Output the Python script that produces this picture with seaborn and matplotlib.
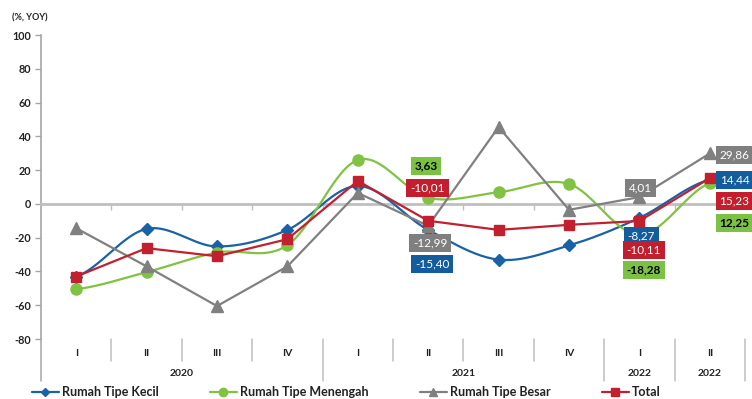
import numpy as np
import pandas as pd
import matplotlib
matplotlib.use("Agg")
import matplotlib.pyplot as plt
from matplotlib.lines import Line2D
import matplotlib.transforms as mtransforms
import seaborn as sns

# Quarterly year-on-year growth of residential property prices (%)
quarters = ["I", "II", "III", "IV", "I", "II", "III", "IV", "I", "II"]
years = ["2020", "2021", "2022", "2022"]
year_spans = [(0, 3), (4, 7), (8, 8), (9, 9)]

kecil = [-43.0, -14.8, -25.2, -15.4, 10.6, -15.40, -33.0, -24.6, -8.27, 14.44]
menengah = [-50.5, -40.4, -28.8, -24.5, 26.0, 3.63, 6.9, 11.8, -18.28, 12.25]
besar = [-14.4, -37.0, -60.5, -37.0, 6.5, -12.99, 45.5, -3.5, 4.01, 29.86]
total = [-43.0, -26.2, -31.0, -20.9, 13.6, -10.01, -15.4, -12.4, -10.11, 15.23]

series_names = ["Rumah Tipe Kecil", "Rumah Tipe Menengah", "Rumah Tipe Besar", "Total"]
series_values = [kecil, menengah, besar, total]
colors = ["#1A62A6", "#80C342", "#808080", "#C3202F"]
box_colors = ["#135C9E", "#7BC143", "#7F7F7F", "#C21E2D"]
text_colors = ["white", "black", "white", "white"]
markers = ["D", "o", "^", "s"]
msizes = [6, 8, 8.5, 7.5]
smooth = [True, True, False, False]

# data-label anchors: (series index, point index, label x, label y)
label_spots = [
    (1, 5, 4.97, 22.5), (3, 5, 4.99, 9.5), (2, 5, 5.03, -23.1), (0, 5, 5.06, -35.5),
    (2, 8, 8.02, 9.5), (0, 8, 8.03, -18.9), (3, 8, 8.06, -27.2), (1, 8, 8.06, -39.1),
    (2, 9, 9.35, 29.0), (0, 9, 9.35, 14.2), (3, 9, 9.35, 1.8), (1, 9, 9.35, -11.2),
]


def catmull_rom(y, steps=24):
    """Smoothed curve through the points (uniform Catmull-Rom)."""
    y = np.asarray(y, float)
    x = np.arange(len(y), dtype=float)
    p = np.concatenate([[y[0]], y, [y[-1]]])
    xs, ys = [], []
    for i in range(len(y) - 1):
        p0, p1, p2, p3 = p[i], p[i + 1], p[i + 2], p[i + 3]
        t = np.linspace(0, 1, steps, endpoint=False)
        seg = 0.5 * ((2 * p1) + (-p0 + p2) * t + (2 * p0 - 5 * p1 + 4 * p2 - p3) * t ** 2
                     + (-p0 + 3 * p1 - 3 * p2 + p3) * t ** 3)
        xs.append(x[i] + t)
        ys.append(seg)
    xs.append([x[-1]])
    ys.append([y[-1]])
    return np.concatenate(xs), np.concatenate(ys)


sns.set_theme(style="white")
plt.rcParams["font.family"] = ["Lato", "DejaVu Sans"]

fig = plt.figure(figsize=(7.52, 3.99), dpi=100)
ax = fig.add_axes([41 / 752, 1 - 339 / 399, 704 / 752, 304 / 399])

xpos = np.arange(len(quarters))
for i, (name, vals) in enumerate(zip(series_names, series_values)):
    if smooth[i]:
        sx, sy = catmull_rom(vals)
    else:
        sx, sy = xpos.astype(float), np.asarray(vals, float)
    sns.lineplot(x=sx, y=sy, ax=ax, color=colors[i], lw=1.6, sort=False,
                 estimator=None, zorder=3 + i)
    ax.plot(xpos, vals, linestyle="none", marker=markers[i], ms=msizes[i],
            color=colors[i], mec=colors[i], zorder=3 + i)

# value labels
for si, pi, lx, ly in label_spots:
    v = series_values[si][pi]
    txt = f"{v:.2f}".replace(".", ",")
    ax.text(lx, ly, txt, ha="center", va="center", fontsize=8.5,
            color=text_colors[si], fontweight="bold" if si == 1 else "normal",
            bbox=dict(boxstyle="square,pad=0.32", fc=box_colors[si], ec="none"),
            zorder=20)

ax.set_xlim(-0.5, len(quarters) - 0.5)
ax.set_ylim(-80, 100)
ax.set_yticks(np.arange(-80, 101, 20))
ax.set_yticklabels([str(v) for v in range(-80, 101, 20)], fontsize=7.8,
                   fontweight="bold", color="#222222")
ax.tick_params(axis="y", which="both", left=True, length=4, width=1,
               color="#A6A6A6", pad=3)

for s in ["top", "right"]:
    ax.spines[s].set_visible(False)
ax.spines["left"].set_color("#A6A6A6")
ax.spines["left"].set_linewidth(1.2)
ax.spines["bottom"].set_position(("data", 0))
ax.spines["bottom"].set_color("#BFBFBF")
ax.spines["bottom"].set_linewidth(2)
ax.set_xticks(np.arange(0.5, len(quarters) - 0.5, 1))
ax.set_xticklabels([])
ax.tick_params(axis="x", bottom=True, length=4, width=1, color="#BFBFBF",
               direction="out")

# category band under the plot
trans = mtransforms.blended_transform_factory(ax.transData, ax.transAxes)
short_bot = -(361 - 339) / 304
long_bot = -(381 - 339) / 304
group_edges = {-0.5, 3.5, 7.5, 8.5, 9.5}
for b in np.arange(-0.5, len(quarters), 1):
    bot = long_bot if b in group_edges else short_bot
    ax.plot([b, b], [0, bot], transform=trans, color="#BFBFBF" if b != -0.5 else "#A6A6A6",
            lw=1.1, clip_on=False)
for x, q in zip(xpos, quarters):
    ax.text(x, -(353 - 339) / 304, q, transform=trans, ha="center", va="center",
            fontsize=7.5, fontweight="bold", color="#222222")
for yr, (a, b) in zip(years, year_spans):
    ax.text((a + b) / 2, -(374 - 339) / 304, yr, transform=trans, ha="center",
            va="center", fontsize=7.5, fontweight="bold", color="#222222")

fig.text(12 / 752, 1 - 18 / 399, "(%, YOY)", fontsize=6.5, fontweight="bold",
         color="#222222", ha="left", va="center")

handles = [Line2D([0], [0], color=c, lw=1.6, marker=m, ms=ms * 0.75, mec=c)
           for c, m, ms in zip(colors, markers, msizes)]
fig.legend(handles, series_names, loc="center", bbox_to_anchor=(346 / 752, 1 - 392.5 / 399),
           ncol=4, frameon=False, handlelength=2.2, handletextpad=0.2,
           columnspacing=4.1, prop=dict(weight="bold", size=9))
for t in fig.legends[0].get_texts():
    t.set_color("#222222")

fig.savefig("out.png", dpi=100)
